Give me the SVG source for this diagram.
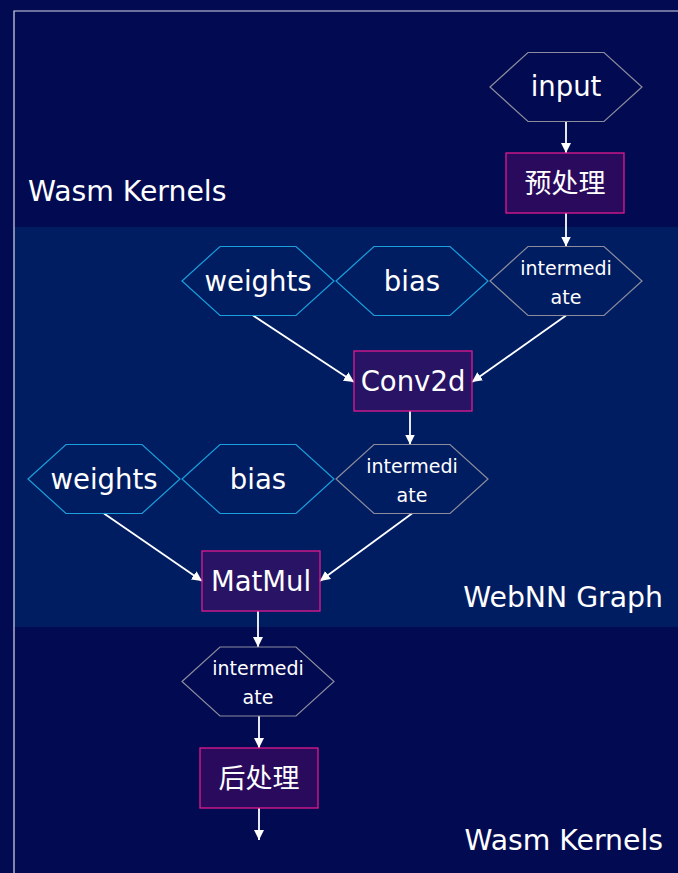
<svg xmlns="http://www.w3.org/2000/svg" width="678" height="873" viewBox="0 0 678 873">
<defs>
<marker id="ah" markerUnits="userSpaceOnUse" markerWidth="11" markerHeight="11" refX="10" refY="5" orient="auto"><path d="M0,0 L10,5 L0,10 z" fill="#ffffff"/></marker>
<style>
.lbl{font-family:"DejaVu Sans","Liberation Sans",sans-serif;fill:#ffffff;font-size:28.3px}
.t{font-family:"DejaVu Sans","Liberation Sans",sans-serif;fill:#ffffff;font-size:27.5px;text-anchor:middle}
.ts{font-family:"DejaVu Sans","Liberation Sans",sans-serif;fill:#ffffff;font-size:19px;text-anchor:middle}
.cjk{font-family:"Noto Sans CJK SC",sans-serif;fill:#ffffff;font-size:27px;text-anchor:middle}
.hc{fill:none;stroke:#1a9fdc;stroke-width:1.2}
.hg{fill:none;stroke:#8c8c9c;stroke-width:1.2}
.op{fill:rgba(82,10,102,0.5);stroke:#e2198f;stroke-width:1.3}
.e{stroke:#ffffff;stroke-width:1.8;fill:none;marker-end:url(#ah)}
</style>
</defs>
<rect width="678" height="873" fill="#020a52"/>
<g id="clusters">
<rect x="14" y="227" width="664" height="400" fill="#011d62"/>
<path d="M14,873 V11 H678" fill="none" stroke="#d8d8e8" stroke-width="1.2"/>
<text class="lbl" x="28" y="201">Wasm Kernels</text>
<text class="lbl" x="663" y="607" text-anchor="end">WebNN Graph</text>
<text class="lbl" x="663" y="850" text-anchor="end">Wasm Kernels</text>
</g>
<g id="connectors">
<line class="e" x1="566" y1="121.5" x2="566" y2="153"/>
<line class="e" x1="566" y1="213" x2="566" y2="246.5"/>
<line class="e" x1="253" y1="315.5" x2="354" y2="382"/>
<line class="e" x1="566" y1="315.5" x2="472" y2="382"/>
<line class="e" x1="410" y1="411" x2="410" y2="444.5"/>
<line class="e" x1="104" y1="513.5" x2="202" y2="581"/>
<line class="e" x1="412" y1="513.5" x2="320" y2="581"/>
<line class="e" x1="258" y1="611" x2="258" y2="647"/>
<line class="e" x1="259" y1="716" x2="259" y2="748"/>
<line class="e" x1="259" y1="808" x2="259" y2="840"/>
</g>
<g id="input"><polygon class="hg" points="490,87 528,52.5 604,52.5 642,87 604,121.5 528,121.5"/><text class="t" x="566" y="96">input</text></g>
<g id="preprocess"><rect class="op" x="506" y="153" width="118" height="60"/><text class="cjk" x="565" y="193">预处理</text></g>
<g id="weights1"><polygon class="hc" points="182,281 220,246.5 296,246.5 334,281 296,315.5 220,315.5"/><text class="t" x="258" y="291">weights</text></g>
<g id="bias1"><polygon class="hc" points="336,281 374,246.5 450,246.5 488,281 450,315.5 374,315.5"/><text class="t" x="412" y="291">bias</text></g>
<g id="inter1"><polygon class="hg" points="490,281 528,246.5 604,246.5 642,281 604,315.5 528,315.5"/><text class="ts" x="566" y="275">intermedi</text><text class="ts" x="566" y="304">ate</text></g>
<g id="conv2d"><rect class="op" x="354" y="351" width="118" height="60"/><text class="t" x="413" y="391">Conv2d</text></g>
<g id="weights2"><polygon class="hc" points="28,479 66,444.5 142,444.5 180,479 142,513.5 66,513.5"/><text class="t" x="104" y="489">weights</text></g>
<g id="bias2"><polygon class="hc" points="182,479 220,444.5 296,444.5 334,479 296,513.5 220,513.5"/><text class="t" x="258" y="489">bias</text></g>
<g id="inter2"><polygon class="hg" points="336,479 374,444.5 450,444.5 488,479 450,513.5 374,513.5"/><text class="ts" x="412" y="473">intermedi</text><text class="ts" x="412" y="502">ate</text></g>
<g id="matmul"><rect class="op" x="202" y="551" width="118" height="60"/><text class="t" x="261" y="591">MatMul</text></g>
<g id="inter3"><polygon class="hg" points="182,681.5 220,647 296,647 334,681.5 296,716 220,716"/><text class="ts" x="258" y="675">intermedi</text><text class="ts" x="258" y="704">ate</text></g>
<g id="postprocess"><rect class="op" x="200" y="748" width="118" height="60"/><text class="cjk" x="259" y="788">后处理</text></g>
</svg>
